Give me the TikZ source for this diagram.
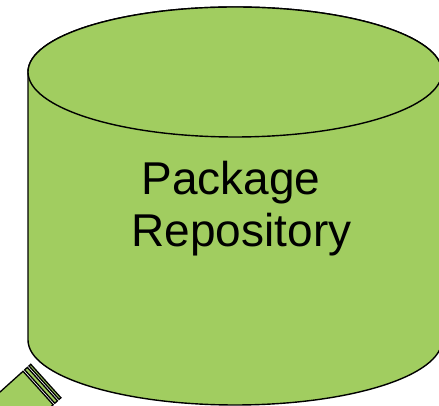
\documentclass[tikz,border=0pt]{standalone}
\usepackage{fontspec}
\setmainfont{Liberation Sans}
\definecolor{repogreen}{RGB}{161,205,96}
\begin{document}
\begin{tikzpicture}[x=1pt,y=1pt,
  cylface/.style={fill=repogreen,draw=black,line width=1.4pt},
  stripebox/.style={fill=repogreen,draw=black,line width=1.3pt},
  labeltext/.style={font=\fontsize{46}{52}\selectfont,align=center,inner sep=0pt}]
\useasboundingbox (0,0) rectangle (439,406);
\clip (0,0) rectangle (439,406);

% repository cylinder: side wall with bottom rim, then the top face
\path[cylface] (28,334) -- (28,66)
  arc[start angle=180,end angle=360,x radius=207,y radius=65]
  -- (442,334)
  arc[start angle=0,end angle=180,x radius=207,y radius=65] -- cycle;
\path[cylface] (235,334) ellipse[x radius=207,y radius=65];

\node[labeltext] (repo) at (241.5,197) {Package\rule{21pt}{0pt}\\Repository};

% striped arrow tail leaving the repository
\begin{scope}[shift={(38.1,18)},rotate=42]
  \path[stripebox] (-120,-22.5) rectangle (0,22.5);
  \path[stripebox] (2.2,-22.5) rectangle (5.8,22.5);
  \path[stripebox] (8,-22.5) rectangle (10.4,22.5);
  \coordinate (tail) at (10.4,0);
\end{scope}
\end{tikzpicture}
\end{document}
